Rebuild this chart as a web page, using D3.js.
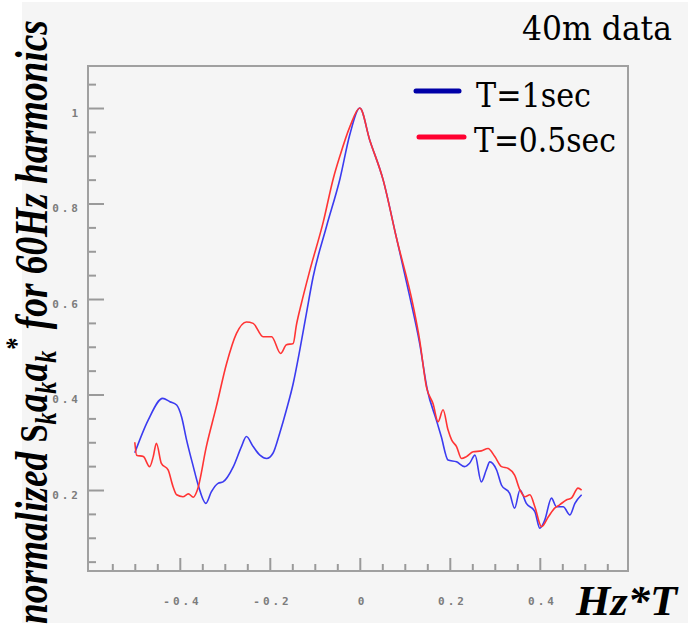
<!DOCTYPE html>
<html>
<head>
<meta charset="utf-8">
<script src="https://cdn.jsdelivr.net/npm/d3@7"></script>
<style>
  body { margin: 0; background: #fff; }
  svg { display: block; }
  .tick-lbl { font-family: "DejaVu Sans Mono", monospace; font-size: 11px; font-weight: bold; fill: #7c7c7c; letter-spacing: 3px; }
</style>
</head>
<body>
<svg id="chart" width="688" height="626"></svg>
<script>
// T=1sec curve
const t1Hz = [-0.5, -0.47, -0.438, -0.422, -0.407, -0.396, -0.385, -0.37, -0.359, -0.342, -0.33, -0.315, -0.304,
  -0.281, -0.263, -0.252, -0.237, -0.222, -0.207, -0.193, -0.178, -0.163, -0.148, -0.133, -0.119, -0.104,
  -0.074, -0.044, -0.022, 0, 0.022, 0.052, 0.081, 0.111, 0.133, 0.15, 0.17, 0.181, 0.196, 0.215, 0.233,
  0.244, 0.256, 0.27, 0.281, 0.289, 0.304, 0.315, 0.333, 0.344, 0.356, 0.37, 0.389, 0.4, 0.411, 0.426,
  0.437, 0.452, 0.467, 0.478, 0.493]
const t1Val = [0.278, 0.347, 0.392, 0.385, 0.378, 0.353, 0.305, 0.249, 0.21, 0.172, 0.196, 0.214, 0.217,
  0.249, 0.291, 0.312, 0.291, 0.273, 0.266, 0.277, 0.319, 0.368, 0.423, 0.495, 0.568, 0.645,
  0.752, 0.852, 0.945, 1.0, 0.933, 0.849, 0.73, 0.605, 0.507, 0.41, 0.347, 0.312, 0.263, 0.259, 0.249,
  0.256, 0.273, 0.217, 0.242, 0.259, 0.242, 0.21, 0.193, 0.162, 0.2, 0.172, 0.155, 0.12, 0.137, 0.183,
  0.165, 0.165, 0.148, 0.172, 0.19]

// T=0.5sec curve
const t05Hz = [-0.5, -0.496, -0.481, -0.467, -0.459, -0.452, -0.441, -0.426, -0.415, -0.407, -0.393, -0.381,
  -0.37, -0.361, -0.341, -0.319, -0.296, -0.274, -0.252, -0.237, -0.215, -0.196, -0.176, -0.163, -0.148,
  -0.141, -0.13, -0.111, -0.081, -0.059, -0.044, -0.022, 0, 0.022, 0.052, 0.081, 0.119, 0.133, 0.148,
  0.163, 0.174, 0.185, 0.196, 0.204, 0.215, 0.226, 0.237, 0.252, 0.27, 0.285, 0.3, 0.315, 0.33, 0.344,
  0.356, 0.367, 0.378, 0.389, 0.404, 0.419, 0.433, 0.444, 0.459, 0.47, 0.485, 0.493]
const t05Val = [0.3, 0.273, 0.27, 0.249, 0.27, 0.298, 0.256, 0.242, 0.207, 0.19, 0.186, 0.192,
  0.185, 0.2, 0.291, 0.374, 0.465, 0.528, 0.552, 0.549, 0.521, 0.521, 0.486, 0.504, 0.507,
  0.545, 0.59, 0.66, 0.762, 0.852, 0.9, 0.961, 1.0, 0.933, 0.849, 0.73, 0.584, 0.514, 0.416,
  0.38, 0.343, 0.368, 0.326, 0.305, 0.291, 0.266, 0.27, 0.28, 0.282, 0.287, 0.27, 0.249, 0.245, 0.231,
  0.2, 0.186, 0.19, 0.165, 0.123, 0.144, 0.162, 0.169, 0.179, 0.183, 0.204, 0.2]

const xMajor = [-0.4, -0.2, 0, 0.2, 0.4]
const xMinor = [-0.55, -0.5, -0.45, -0.35, -0.3, -0.25, -0.15, -0.1, -0.05, 0.05, 0.1, 0.15, 0.25, 0.3, 0.35, 0.45, 0.5, 0.55]
const yMajor = [0.2, 0.4, 0.6, 0.8, 1]
const yMinor = [0.05, 0.1, 0.15, 0.25, 0.3, 0.35, 0.45, 0.5, 0.55, 0.65, 0.7, 0.75, 0.85, 0.9, 0.95, 1.05]

const seriesNames = ["T=1sec", "T=0.5sec"]
const lineColors = ["#3b3bf0", "#ff3434"]
const legendColors = ["#0000a8", "#ff0030"]

const svg = d3.select("#chart")
const plot = {left: 88, right: 628, top: 66, bottom: 571}

// squeeze a text so it spans the given width (the original image is a bit compressed)
const fitText = (sel, x, y, width, rotate) => {
  const w = sel.node().getComputedTextLength()
  const s = width / w
  sel.attr("x", 0).attr("y", 0)
    .attr("transform", `translate(${x},${y})${rotate ? " rotate(-90)" : ""} scale(${s},1)`)
}

svg.append("rect")
  .attr("x", 22).attr("y", 2)
  .attr("width", 666).attr("height", 621)
  .attr("fill", "#f5f5f5")

const xScale = d3.scaleLinear()
  .domain([-0.604, 0.596])
  .range([plot.left, plot.right])

const yScale = d3.scaleLinear()
  .domain([0.0304, 1.088])
  .range([plot.bottom, plot.top])

// ticks point inward
const xAxisMajor = svg.append("g")
  .attr("transform", `translate(0, ${plot.bottom})`)
  .call(d3.axisBottom(xScale).tickValues(xMajor).tickSize(-13).tickPadding(26)
    .tickFormat(d => d3.format(".1f")(d).replace("0.0", "0").replace("−", "-")))
svg.append("g")
  .attr("transform", `translate(0, ${plot.bottom})`)
  .call(d3.axisBottom(xScale).tickValues(xMinor).tickSize(-7).tickFormat(""))

svg.append("g")
  .attr("transform", `translate(${plot.left}, 0)`)
  .call(d3.axisLeft(yScale).tickValues(yMajor).tickSize(-16).tickPadding(7)
    .tickFormat(d => d === 1 ? "1" : d3.format(".1f")(d)))
svg.append("g")
  .attr("transform", `translate(${plot.left}, 0)`)
  .call(d3.axisLeft(yScale).tickValues(yMinor).tickSize(-8).tickFormat(""))

svg.selectAll(".domain").remove()
svg.selectAll(".tick line").attr("stroke", "#9a9a9a").attr("stroke-width", 2)
svg.selectAll(".tick text").attr("class", "tick-lbl")
svg.selectAll(".tick text").filter(function() { return this.getAttribute("dy") === "0.32em" })
  .attr("dy", "0.75em")
xAxisMajor.selectAll("text").attr("dx", "0.2em")

svg.append("rect")
  .attr("x", plot.left).attr("y", plot.top)
  .attr("width", plot.right - plot.left).attr("height", plot.bottom - plot.top)
  .attr("fill", "none")
  .attr("stroke", "#a0a0a0")
  .attr("stroke-width", 2)

const graphLine = d3.line()
  .x(d => xScale(d[0]))
  .y(d => yScale(d[1]))
  .curve(d3.curveMonotoneX)

const series = [
  d3.zip(t1Hz, t1Val),
  d3.zip(t05Hz, t05Val)
]

series.forEach((pts, i) => {
  svg.append("path")
    .datum(pts)
    .attr("fill", "none")
    .attr("stroke", lineColors[i])
    .attr("stroke-width", 1.6)
    .attr("stroke-linejoin", "round")
    .attr("d", graphLine)
})

// legend
const legendRows = [
  {x1: 416, x2: 459, y: 91, tx: 476, ty: 107, w: 115},
  {x1: 419, x2: 464, y: 137, tx: 474, ty: 152, w: 142}
]
legendRows.forEach((r, i) => {
  svg.append("line")
    .attr("x1", r.x1).attr("x2", r.x2)
    .attr("y1", r.y).attr("y2", r.y)
    .attr("stroke", legendColors[i])
    .attr("stroke-width", 5)
    .attr("stroke-linecap", "round")
  const t = svg.append("text")
    .attr("font-family", "DejaVu Serif")
    .attr("font-size", 34)
    .attr("fill", "#000")
    .text(seriesNames[i])
  fitText(t, r.tx, r.ty, r.w)
})

const title = svg.append("text")
  .attr("font-family", "DejaVu Serif")
  .attr("font-size", 33)
  .text("40m data")
fitText(title, 522, 40, 150)

const xLabel = svg.append("text")
  .attr("font-family", "Liberation Serif")
  .attr("font-size", 42)
  .attr("font-weight", "bold")
  .attr("font-style", "italic")
  .text("Hz*T")
fitText(xLabel, 576, 615, 101)

// y label: normalized S_k a_k a_k^* for 60Hz harmonics
const yLabel = svg.append("text")
  .attr("font-family", "Liberation Serif")
  .attr("font-size", 46)
  .attr("font-weight", "bold")
  .attr("font-style", "italic")
yLabel.append("tspan").text("normalized ")
yLabel.append("tspan").attr("font-style", "normal").attr("font-size", 40).text("S")
yLabel.append("tspan").attr("font-size", 30).attr("dy", 9).text("k")
yLabel.append("tspan").attr("dy", -9).text("a")
yLabel.append("tspan").attr("font-size", 30).attr("dy", 9).text("k")
yLabel.append("tspan").attr("dy", -9).text("a")
yLabel.append("tspan").attr("font-size", 30).attr("dy", 9).text("k")
yLabel.append("tspan").attr("font-size", 30).attr("dy", -30).text("*")
yLabel.append("tspan").attr("dy", 21).text(" for 60Hz harmonics")
fitText(yLabel, 47, 624, 604, true)
</script>
</body>
</html>
